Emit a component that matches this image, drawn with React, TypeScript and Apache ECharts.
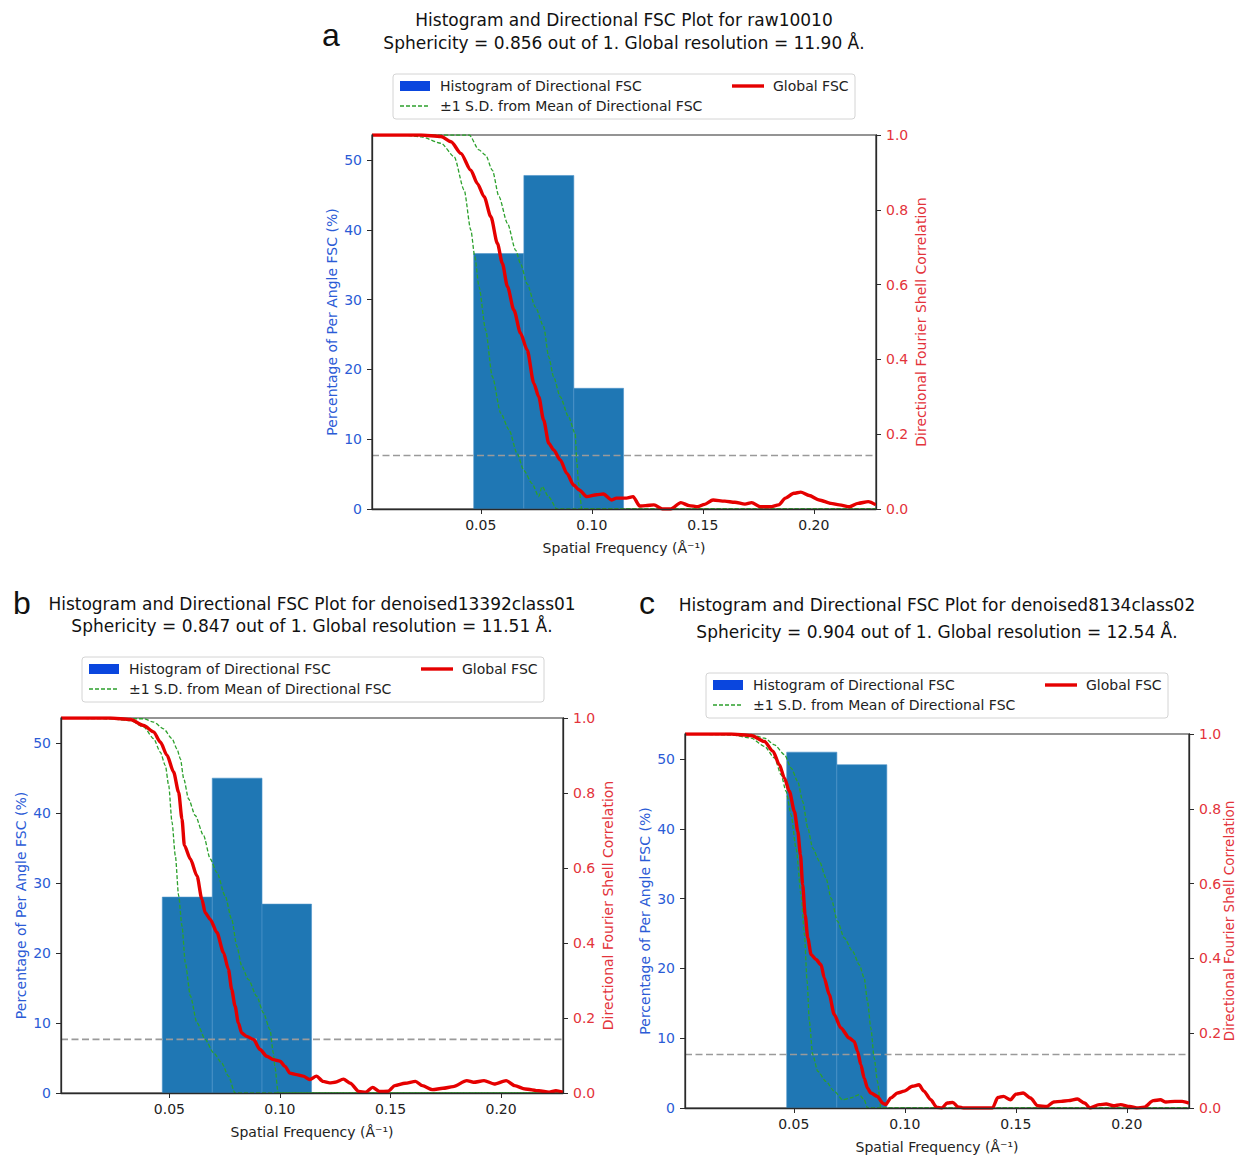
import React, { useEffect, useRef } from "react";
import * as echarts from "echarts";

// ---------------- data ----------------
const binEdges = [0.0468, 0.0694, 0.0919, 0.1143];
const histA = [36.6, 47.8, 17.3];
const histB = [28.0, 45.0, 27.0];
const histC = [51.0, 49.2];
const fscThreshold = 0.143;
const xRange = [0.001, 0.228];
const leftRange = [0, 53.6];
const xTicks = [0.05, 0.1, 0.15, 0.2];
const leftTicks = [0, 10, 20, 30, 40, 50];

const globalA: number[][] = [
  [0.001, 1.0], [0.0231, 1.0], [0.0321, 0.996], [0.0366, 0.982], [0.041, 0.951], [0.0455, 0.906],
  [0.0485, 0.87], [0.0515, 0.835], [0.0545, 0.782], [0.0575, 0.71], [0.0597, 0.657], [0.062, 0.595],
  [0.0649, 0.532], [0.0679, 0.47], [0.0709, 0.425], [0.0739, 0.336], [0.0761, 0.3], [0.0783, 0.238],
  [0.0806, 0.176], [0.0828, 0.158], [0.0858, 0.131], [0.0888, 0.095], [0.0918, 0.064], [0.0943, 0.051],
  [0.0978, 0.033], [0.1022, 0.038], [0.1052, 0.04], [0.109, 0.024], [0.1111, 0.029], [0.1156, 0.029],
  [0.1186, 0.033], [0.1216, 0.008], [0.1242, 0.009], [0.128, 0.011], [0.1318, 0.0], [0.1356, 0.0],
  [0.1401, 0.017], [0.1439, 0.009], [0.1477, 0.006], [0.1508, 0.0125], [0.1546, 0.024], [0.1599, 0.021],
  [0.1644, 0.018], [0.169, 0.013], [0.172, 0.017], [0.1758, 0.006], [0.1804, 0.006], [0.1842, 0.011],
  [0.1872, 0.029], [0.191, 0.042], [0.1941, 0.045], [0.1979, 0.036], [0.2024, 0.024], [0.2077, 0.015],
  [0.2115, 0.011], [0.2161, 0.006], [0.2199, 0.015], [0.2245, 0.0196], [0.228, 0.011],
];
const upperA: number[][] = [
  [0.001, 1.0], [0.0448, 1.0], [0.0492, 0.96], [0.0522, 0.946], [0.0552, 0.906], [0.0582, 0.835],
  [0.062, 0.764], [0.0657, 0.692], [0.0679, 0.656], [0.0709, 0.602], [0.0746, 0.54], [0.0783, 0.488],
  [0.0806, 0.407], [0.0828, 0.353], [0.0858, 0.3], [0.0895, 0.247], [0.0925, 0.202], [0.0933, 0.122],
  [0.094, 0.069], [0.0955, 0.0], [0.228, 0.0],
];
const lowerA: number[][] = [
  [0.001, 1.0], [0.015, 1.0], [0.0231, 0.995], [0.0321, 0.978], [0.038, 0.942], [0.0425, 0.853],
  [0.0455, 0.746], [0.0473, 0.675], [0.0492, 0.594], [0.0522, 0.478], [0.0552, 0.354], [0.059, 0.256],
  [0.0627, 0.212], [0.0664, 0.148], [0.0694, 0.103], [0.0731, 0.068], [0.0761, 0.033], [0.0776, 0.06],
  [0.0805, 0.033], [0.0843, 0.0], [0.228, 0.0],
];

const globalB: number[][] = [
  [0.001, 1.0], [0.0234, 1.0], [0.0324, 0.996], [0.0384, 0.98], [0.0429, 0.963], [0.0459, 0.936],
  [0.049, 0.9], [0.0519, 0.856], [0.0542, 0.802], [0.0557, 0.731], [0.0568, 0.66], [0.0595, 0.624],
  [0.0625, 0.579], [0.0647, 0.517], [0.0662, 0.481], [0.0685, 0.463], [0.0715, 0.428], [0.0745, 0.374],
  [0.0767, 0.33], [0.0782, 0.276], [0.0797, 0.232], [0.0812, 0.187], [0.0827, 0.16], [0.085, 0.151],
  [0.088, 0.143], [0.091, 0.116], [0.094, 0.098], [0.097, 0.089], [0.1, 0.085], [0.1023, 0.071],
  [0.1045, 0.053], [0.1075, 0.049], [0.1105, 0.045], [0.1135, 0.036], [0.1165, 0.045], [0.1195, 0.031],
  [0.1225, 0.027], [0.1249, 0.0285], [0.1287, 0.037], [0.1318, 0.026], [0.1357, 0.004], [0.1388, 0.002],
  [0.1419, 0.015], [0.145, 0.004], [0.1489, 0.0045], [0.152, 0.0196], [0.1566, 0.026], [0.1613, 0.031],
  [0.1644, 0.0196], [0.169, 0.009], [0.1737, 0.0125], [0.1783, 0.017], [0.1845, 0.033], [0.1876, 0.0285],
  [0.1923, 0.033], [0.1969, 0.024], [0.2023, 0.033], [0.2062, 0.0196], [0.2109, 0.0107], [0.2171, 0.006],
  [0.2217, 0.002], [0.2248, 0.006], [0.228, 0.002],
];
const upperB: number[][] = [
  [0.001, 1.0], [0.0384, 0.998], [0.0429, 0.989], [0.0474, 0.971], [0.0512, 0.945], [0.0534, 0.918],
  [0.055, 0.891], [0.0565, 0.838], [0.0587, 0.784], [0.0617, 0.74], [0.0655, 0.686], [0.0685, 0.624],
  [0.0715, 0.588], [0.0752, 0.526], [0.0782, 0.463], [0.0805, 0.392], [0.0827, 0.339], [0.0857, 0.303],
  [0.0895, 0.258], [0.0925, 0.214], [0.0955, 0.169], [0.097, 0.107], [0.0977, 0.071], [0.0992, 0.0],
  [0.228, 0.0],
];
const lowerB: number[][] = [
  [0.001, 1.0], [0.0234, 0.998], [0.0324, 0.993], [0.0384, 0.976], [0.0429, 0.945], [0.0459, 0.909],
  [0.0482, 0.873], [0.0497, 0.82], [0.0512, 0.722], [0.0527, 0.633], [0.0542, 0.526], [0.0557, 0.446],
  [0.0572, 0.348], [0.0595, 0.259], [0.0625, 0.187], [0.0662, 0.143], [0.07, 0.107], [0.0737, 0.08],
  [0.0767, 0.045], [0.0797, 0.0], [0.228, 0.0],
];

const globalC: number[][] = [
  [0.001, 1.0], [0.0218, 1.0], [0.0308, 0.996], [0.0368, 0.98], [0.0406, 0.954], [0.0435, 0.918],
  [0.0458, 0.882], [0.048, 0.847], [0.0503, 0.793], [0.0518, 0.74], [0.053, 0.677], [0.054, 0.597],
  [0.0551, 0.517], [0.0563, 0.455], [0.0578, 0.41], [0.06, 0.397], [0.0623, 0.383], [0.0637, 0.348],
  [0.066, 0.303], [0.0682, 0.25], [0.0712, 0.214], [0.075, 0.187], [0.0772, 0.178], [0.0787, 0.152],
  [0.0802, 0.116], [0.0817, 0.08], [0.0832, 0.053], [0.0847, 0.04], [0.0877, 0.031], [0.09, 0.013],
  [0.0914, 0.009], [0.0937, 0.027], [0.0967, 0.04], [0.0997, 0.045], [0.1034, 0.058], [0.1064, 0.062],
  [0.1086, 0.045], [0.1117, 0.022], [0.1143, 0.002], [0.1167, 0.0], [0.1191, 0.0133], [0.1216, 0.015],
  [0.124, 0.003], [0.1265, 0.0], [0.1395, 0.0], [0.1419, 0.028], [0.1444, 0.031], [0.1476, 0.022],
  [0.15, 0.037], [0.1533, 0.04], [0.1566, 0.0267], [0.1598, 0.006], [0.1639, 0.004], [0.1671, 0.016],
  [0.1704, 0.0178], [0.1736, 0.0196], [0.1777, 0.024], [0.181, 0.0133], [0.1834, 0.0], [0.1875, 0.0089],
  [0.1907, 0.0107], [0.194, 0.006], [0.1972, 0.0089], [0.2013, 0.004], [0.2045, 0.0], [0.2078, 0.002],
  [0.2119, 0.0196], [0.2151, 0.022], [0.2176, 0.016], [0.2216, 0.0178], [0.2249, 0.0178], [0.228, 0.0133],
];
const upperC: number[][] = [
  [0.001, 1.0], [0.0308, 0.998], [0.0368, 0.989], [0.0413, 0.971], [0.0458, 0.945], [0.0488, 0.909],
  [0.0518, 0.873], [0.054, 0.82], [0.0563, 0.749], [0.0585, 0.695], [0.0615, 0.66], [0.0645, 0.615],
  [0.0668, 0.561], [0.0697, 0.499], [0.0727, 0.455], [0.0765, 0.419], [0.0795, 0.383], [0.0817, 0.348],
  [0.0832, 0.285], [0.0847, 0.214], [0.0862, 0.134], [0.0877, 0.071], [0.0892, 0.0], [0.228, 0.0],
];
const lowerC: number[][] = [
  [0.001, 1.0], [0.0218, 0.998], [0.0308, 0.989], [0.0368, 0.967], [0.0413, 0.936], [0.0443, 0.891],
  [0.0465, 0.847], [0.0488, 0.784], [0.051, 0.695], [0.0533, 0.57], [0.0548, 0.463], [0.056, 0.339],
  [0.057, 0.232], [0.0585, 0.143], [0.0608, 0.098], [0.0645, 0.071], [0.0682, 0.045], [0.072, 0.022],
  [0.0757, 0.027], [0.0795, 0.036], [0.0817, 0.022], [0.0832, 0.0], [0.228, 0.0],
];

const titleLine1 = [
  "Histogram and Directional FSC Plot for raw10010",
  "Histogram and Directional FSC Plot for denoised13392class01",
  "Histogram and Directional FSC Plot for denoised8134class02",
];
const titleLine2 = [
  "Sphericity = 0.856 out of 1. Global resolution = 11.90 Å.",
  "Sphericity = 0.847 out of 1. Global resolution = 11.51 Å.",
  "Sphericity = 0.904 out of 1. Global resolution = 12.54 Å.",
];
const panelLetters = ["a", "b", "c"];
const legendLabels = [
  "Histogram of Directional FSC",
  "±1 S.D. from Mean of Directional FSC",
  "Global FSC",
];
const xAxisName = "Spatial Frequency (Å⁻¹)";
const leftAxisName = "Percentage of Per Angle FSC (%)";
const rightAxisName = "Directional Fourier Shell Correlation";

// ---------------- layout ----------------
const FONT = "DejaVu Sans";
const BLUE_TXT = "#2b5bd6";
const RED_TXT = "#e3333b";
const AXIS_C = "#2a2a2a";
const layout = [
  { L: 372, T: 135, W: 504, H: 374, tx: 624, ty1: 20, ty2: 43, lx: 331, ly: 35, rGap: 38, rFs: 14 },
  { L: 61, T: 718, W: 502, H: 375, tx: 312, ty1: 604, ty2: 626, lx: 22, ly: 603, rGap: 38, rFs: 14 },
  { L: 685, T: 734, W: 504, H: 374, tx: 937, ty1: 605, ty2: 632, lx: 647, ly: 603, rGap: 33, rFs: 13.5 },
];
const panelData = [
  { hist: histA, global: globalA, upper: upperA, lower: lowerA },
  { hist: histB, global: globalB, upper: upperB, lower: lowerB },
  { hist: histC, global: globalC, upper: upperC, lower: lowerC },
];

function buildOption() {
  const grid: any[] = [];
  const xAxis: any[] = [];
  const yAxis: any[] = [];
  const series: any[] = [];
  const graphic: any[] = [];

  layout.forEach((g, i) => {
    const d = panelData[i];
    grid.push({
      left: g.L, top: g.T, width: g.W, height: g.H,
      show: true, borderColor: AXIS_C, borderWidth: 1.2, backgroundColor: "transparent",
      outerBoundsMode: "none", containLabel: false,
    });
    xAxis.push({
      type: "value", gridIndex: i, min: xRange[0], max: xRange[1], position: "bottom", z: 6,
      axisLine: { show: true, onZero: false, lineStyle: { color: AXIS_C, width: 1.3 } },
      axisTick: { show: true, customValues: xTicks, length: 5, lineStyle: { color: AXIS_C } },
      axisLabel: {
        customValues: xTicks, formatter: (v: number) => v.toFixed(2),
        fontSize: 14, color: "#222", margin: 9, fontFamily: FONT,
      },
      splitLine: { show: false },
      name: xAxisName, nameLocation: "middle", nameGap: 32, nameMoveOverlap: false,
      nameTextStyle: { fontSize: 14, color: "#222", fontFamily: FONT },
    });
    yAxis.push({
      type: "value", gridIndex: i, position: "left", min: leftRange[0], max: leftRange[1], z: 6,
      axisLine: { show: true, lineStyle: { color: AXIS_C, width: 1.3 } },
      axisTick: { show: true, customValues: leftTicks, length: 5, lineStyle: { color: AXIS_C } },
      axisLabel: { customValues: leftTicks, fontSize: 14, color: BLUE_TXT, margin: 10, fontFamily: FONT },
      splitLine: { show: false },
      name: leftAxisName, nameLocation: "middle", nameGap: 33, nameRotate: 90, nameMoveOverlap: false,
      nameTextStyle: { fontSize: 14, color: BLUE_TXT, fontFamily: FONT },
    });
    yAxis.push({
      type: "value", gridIndex: i, position: "right", min: 0, max: 1, interval: 0.2, z: 6,
      axisLine: { show: true, lineStyle: { color: AXIS_C, width: 1.3 } },
      axisTick: { show: true, length: 5, lineStyle: { color: AXIS_C } },
      axisLabel: { formatter: (v: number) => v.toFixed(1), fontSize: 14, color: RED_TXT, margin: 10, fontFamily: FONT },
      splitLine: { show: false },
      name: rightAxisName, nameLocation: "middle", nameGap: g.rGap, nameRotate: 90, nameMoveOverlap: false,
      nameTextStyle: { fontSize: g.rFs, color: RED_TXT, fontFamily: FONT },
    });

    series.push({
      type: "custom", name: legendLabels[0], xAxisIndex: i, yAxisIndex: 2 * i, z: 1,
      data: d.hist.map((h, k) => [binEdges[k], binEdges[k + 1], h]),
      encode: { x: [0, 1], y: 2 },
      renderItem: (params: any, api: any) => {
        const p0 = api.coord([api.value(0), 0]);
        const p1 = api.coord([api.value(1), api.value(2)]);
        return {
          type: "rect",
          shape: { x: p0[0], y: p1[1], width: p1[0] - p0[0], height: p0[1] - p1[1] },
          style: { fill: "#1f77b4", stroke: "#4d94c9", lineWidth: 0.6 },
        };
      },
    });
    series.push({
      type: "line", xAxisIndex: i, yAxisIndex: 2 * i + 1, z: 2, symbol: "none", silent: true,
      data: [[xRange[0], fscThreshold], [xRange[1], fscThreshold]],
      lineStyle: { color: "#9a9a9a", width: 1.6, type: [7, 3.5] },
    });
    [d.upper, d.lower].forEach((arr) => {
      series.push({
        type: "line", name: legendLabels[1], xAxisIndex: i, yAxisIndex: 2 * i + 1, z: 3,
        symbol: "none", data: arr, smooth: 0.25, smoothMonotone: "x",
        lineStyle: { color: "#2ca02c", width: 1.3, type: [4, 2] },
      });
    });
    series.push({
      type: "line", name: legendLabels[2], xAxisIndex: i, yAxisIndex: 2 * i + 1, z: 4,
      symbol: "none", data: d.global, smooth: 0.25, smoothMonotone: "x",
      lineStyle: { color: "#e50000", width: 3.4 },
    });

    // titles
    graphic.push({
      type: "text", x: g.tx, y: g.ty1,
      style: { text: titleLine1[i], fontSize: 17, fontFamily: FONT, fill: "#111", align: "center", verticalAlign: "middle" },
    });
    graphic.push({
      type: "text", x: g.tx, y: g.ty2,
      style: { text: titleLine2[i], fontSize: 17, fontFamily: FONT, fill: "#111", align: "center", verticalAlign: "middle" },
    });
    graphic.push({
      type: "text", x: g.lx, y: g.ly,
      style: { text: panelLetters[i], fontSize: 32, fontFamily: "Liberation Sans", fill: "#111", align: "center", verticalAlign: "middle" },
    });

    // legend
    const r1 = g.T - 49;
    const r2 = g.T - 29;
    graphic.push({
      type: "rect", shape: { x: g.L + 21, y: g.T - 61, width: 462, height: 45, r: 3 },
      style: { fill: "rgba(255,255,255,0.85)", stroke: "#d4d4d4", lineWidth: 1 },
    });
    graphic.push({ type: "rect", shape: { x: g.L + 28, y: r1 - 5, width: 30, height: 10 }, style: { fill: "#0a46de" } });
    graphic.push({
      type: "line", shape: { x1: g.L + 28, y1: r2, x2: g.L + 58, y2: r2 },
      style: { stroke: "#2ca02c", lineWidth: 1.5, lineDash: [4, 2] },
    });
    graphic.push({
      type: "line", shape: { x1: g.L + 360, y1: r1, x2: g.L + 392, y2: r1 },
      style: { stroke: "#e50000", lineWidth: 3.4 },
    });
    graphic.push({
      type: "text", x: g.L + 68, y: r1,
      style: { text: legendLabels[0], fontSize: 14, fontFamily: FONT, fill: "#222", align: "left", verticalAlign: "middle" },
    });
    graphic.push({
      type: "text", x: g.L + 68, y: r2,
      style: { text: legendLabels[1], fontSize: 14, fontFamily: FONT, fill: "#222", align: "left", verticalAlign: "middle" },
    });
    graphic.push({
      type: "text", x: g.L + 401, y: r1,
      style: { text: legendLabels[2], fontSize: 14, fontFamily: FONT, fill: "#222", align: "left", verticalAlign: "middle" },
    });
  });

  return {
    animation: false,
    backgroundColor: "#ffffff",
    textStyle: { fontFamily: FONT },
    grid, xAxis, yAxis, series, graphic,
  };
}

export default function App() {
  const ref = useRef<HTMLDivElement>(null);
  useEffect(() => {
    document.body.style.margin = "0";
    const chart = echarts.init(ref.current!, undefined, { renderer: "svg" });
    chart.setOption(buildOption() as any);
    return () => chart.dispose();
  }, []);
  return <div ref={ref} style={{ width: 1237, height: 1155 }} />;
}
